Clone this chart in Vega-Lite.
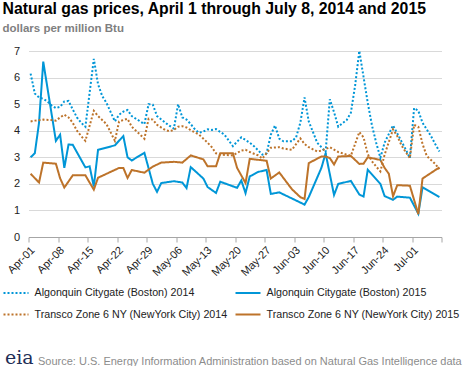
{
"$schema": "https://vega.github.io/schema/vega-lite/v6.json",
"width": 413, "height": 186,
"autosize": {"type": "none"},
"padding": {"left": 28.5, "top": 51, "right": 26.5, "bottom": 129},
"background": "white",
"config": {"font": "Liberation Sans", "view": {"stroke": null}},
"title": {"text": "Natural gas prices, April 1 through July 8, 2014 and 2015", "subtitle": "dollars per million Btu", "anchor": "start", "frame": "group", "dx": -26, "fontSize": 15.8, "fontWeight": "bold", "color": "#000000", "subtitleFontSize": 11.5, "subtitleFontWeight": "bold", "subtitleColor": "#7f7f7f", "subtitlePadding": 5, "offset": 10},
"data": {"values": [
{"series":"Algonquin Citygate (Boston) 2015","date":"2015-04-01","price":3.0},
{"series":"Algonquin Citygate (Boston) 2015","date":"2015-04-02","price":3.15},
{"series":"Algonquin Citygate (Boston) 2015","date":"2015-04-03","price":4.3},
{"series":"Algonquin Citygate (Boston) 2015","date":"2015-04-04","price":6.6},
{"series":"Algonquin Citygate (Boston) 2015","date":"2015-04-07","price":3.62},
{"series":"Algonquin Citygate (Boston) 2015","date":"2015-04-08","price":3.85},
{"series":"Algonquin Citygate (Boston) 2015","date":"2015-04-09","price":2.6},
{"series":"Algonquin Citygate (Boston) 2015","date":"2015-04-10","price":3.48},
{"series":"Algonquin Citygate (Boston) 2015","date":"2015-04-11","price":3.47},
{"series":"Algonquin Citygate (Boston) 2015","date":"2015-04-14","price":2.62},
{"series":"Algonquin Citygate (Boston) 2015","date":"2015-04-15","price":2.66},
{"series":"Algonquin Citygate (Boston) 2015","date":"2015-04-16","price":1.9},
{"series":"Algonquin Citygate (Boston) 2015","date":"2015-04-17","price":3.28},
{"series":"Algonquin Citygate (Boston) 2015","date":"2015-04-21","price":3.45},
{"series":"Algonquin Citygate (Boston) 2015","date":"2015-04-23","price":3.8},
{"series":"Algonquin Citygate (Boston) 2015","date":"2015-04-24","price":3.0},
{"series":"Algonquin Citygate (Boston) 2015","date":"2015-04-25","price":2.88},
{"series":"Algonquin Citygate (Boston) 2015","date":"2015-04-28","price":3.17},
{"series":"Algonquin Citygate (Boston) 2015","date":"2015-04-30","price":2.0},
{"series":"Algonquin Citygate (Boston) 2015","date":"2015-05-01","price":1.7},
{"series":"Algonquin Citygate (Boston) 2015","date":"2015-05-02","price":2.03},
{"series":"Algonquin Citygate (Boston) 2015","date":"2015-05-05","price":2.1},
{"series":"Algonquin Citygate (Boston) 2015","date":"2015-05-07","price":2.05},
{"series":"Algonquin Citygate (Boston) 2015","date":"2015-05-08","price":1.84},
{"series":"Algonquin Citygate (Boston) 2015","date":"2015-05-09","price":2.63},
{"series":"Algonquin Citygate (Boston) 2015","date":"2015-05-12","price":2.2},
{"series":"Algonquin Citygate (Boston) 2015","date":"2015-05-13","price":1.88},
{"series":"Algonquin Citygate (Boston) 2015","date":"2015-05-15","price":1.66},
{"series":"Algonquin Citygate (Boston) 2015","date":"2015-05-16","price":2.08},
{"series":"Algonquin Citygate (Boston) 2015","date":"2015-05-20","price":1.85},
{"series":"Algonquin Citygate (Boston) 2015","date":"2015-05-21","price":2.13},
{"series":"Algonquin Citygate (Boston) 2015","date":"2015-05-22","price":1.65},
{"series":"Algonquin Citygate (Boston) 2015","date":"2015-05-23","price":2.28},
{"series":"Algonquin Citygate (Boston) 2015","date":"2015-05-25","price":2.45},
{"series":"Algonquin Citygate (Boston) 2015","date":"2015-05-27","price":2.52},
{"series":"Algonquin Citygate (Boston) 2015","date":"2015-05-28","price":1.62},
{"series":"Algonquin Citygate (Boston) 2015","date":"2015-05-30","price":1.68},
{"series":"Algonquin Citygate (Boston) 2015","date":"2015-06-02","price":1.45},
{"series":"Algonquin Citygate (Boston) 2015","date":"2015-06-05","price":1.22},
{"series":"Algonquin Citygate (Boston) 2015","date":"2015-06-06","price":1.5},
{"series":"Algonquin Citygate (Boston) 2015","date":"2015-06-09","price":2.6},
{"series":"Algonquin Citygate (Boston) 2015","date":"2015-06-10","price":3.15},
{"series":"Algonquin Citygate (Boston) 2015","date":"2015-06-12","price":1.58},
{"series":"Algonquin Citygate (Boston) 2015","date":"2015-06-13","price":2.0},
{"series":"Algonquin Citygate (Boston) 2015","date":"2015-06-16","price":2.11},
{"series":"Algonquin Citygate (Boston) 2015","date":"2015-06-18","price":1.6},
{"series":"Algonquin Citygate (Boston) 2015","date":"2015-06-19","price":1.52},
{"series":"Algonquin Citygate (Boston) 2015","date":"2015-06-20","price":2.53},
{"series":"Algonquin Citygate (Boston) 2015","date":"2015-06-23","price":2.0},
{"series":"Algonquin Citygate (Boston) 2015","date":"2015-06-24","price":1.54},
{"series":"Algonquin Citygate (Boston) 2015","date":"2015-06-26","price":1.4},
{"series":"Algonquin Citygate (Boston) 2015","date":"2015-06-27","price":1.52},
{"series":"Algonquin Citygate (Boston) 2015","date":"2015-06-30","price":1.48},
{"series":"Algonquin Citygate (Boston) 2015","date":"2015-07-02","price":0.88},
{"series":"Algonquin Citygate (Boston) 2015","date":"2015-07-03","price":1.87},
{"series":"Algonquin Citygate (Boston) 2015","date":"2015-07-07","price":1.5},
{"series":"Transco Zone 6 NY (NewYork City) 2015","date":"2015-04-01","price":2.38},
{"series":"Transco Zone 6 NY (NewYork City) 2015","date":"2015-04-03","price":2.05},
{"series":"Transco Zone 6 NY (NewYork City) 2015","date":"2015-04-04","price":2.8},
{"series":"Transco Zone 6 NY (NewYork City) 2015","date":"2015-04-07","price":2.76},
{"series":"Transco Zone 6 NY (NewYork City) 2015","date":"2015-04-08","price":2.21},
{"series":"Transco Zone 6 NY (NewYork City) 2015","date":"2015-04-09","price":1.86},
{"series":"Transco Zone 6 NY (NewYork City) 2015","date":"2015-04-11","price":2.32},
{"series":"Transco Zone 6 NY (NewYork City) 2015","date":"2015-04-14","price":2.32},
{"series":"Transco Zone 6 NY (NewYork City) 2015","date":"2015-04-16","price":1.78},
{"series":"Transco Zone 6 NY (NewYork City) 2015","date":"2015-04-17","price":2.23},
{"series":"Transco Zone 6 NY (NewYork City) 2015","date":"2015-04-22","price":2.6},
{"series":"Transco Zone 6 NY (NewYork City) 2015","date":"2015-04-23","price":2.6},
{"series":"Transco Zone 6 NY (NewYork City) 2015","date":"2015-04-24","price":2.22},
{"series":"Transco Zone 6 NY (NewYork City) 2015","date":"2015-04-25","price":2.52},
{"series":"Transco Zone 6 NY (NewYork City) 2015","date":"2015-04-28","price":2.42},
{"series":"Transco Zone 6 NY (NewYork City) 2015","date":"2015-04-30","price":2.65},
{"series":"Transco Zone 6 NY (NewYork City) 2015","date":"2015-05-02","price":2.8},
{"series":"Transco Zone 6 NY (NewYork City) 2015","date":"2015-05-05","price":2.83},
{"series":"Transco Zone 6 NY (NewYork City) 2015","date":"2015-05-07","price":2.8},
{"series":"Transco Zone 6 NY (NewYork City) 2015","date":"2015-05-09","price":3.07},
{"series":"Transco Zone 6 NY (NewYork City) 2015","date":"2015-05-12","price":2.92},
{"series":"Transco Zone 6 NY (NewYork City) 2015","date":"2015-05-13","price":2.66},
{"series":"Transco Zone 6 NY (NewYork City) 2015","date":"2015-05-15","price":2.66},
{"series":"Transco Zone 6 NY (NewYork City) 2015","date":"2015-05-16","price":3.15},
{"series":"Transco Zone 6 NY (NewYork City) 2015","date":"2015-05-19","price":3.15},
{"series":"Transco Zone 6 NY (NewYork City) 2015","date":"2015-05-20","price":2.6},
{"series":"Transco Zone 6 NY (NewYork City) 2015","date":"2015-05-22","price":2.03},
{"series":"Transco Zone 6 NY (NewYork City) 2015","date":"2015-05-23","price":2.94},
{"series":"Transco Zone 6 NY (NewYork City) 2015","date":"2015-05-27","price":2.87},
{"series":"Transco Zone 6 NY (NewYork City) 2015","date":"2015-05-28","price":2.2},
{"series":"Transco Zone 6 NY (NewYork City) 2015","date":"2015-05-30","price":2.43},
{"series":"Transco Zone 6 NY (NewYork City) 2015","date":"2015-06-02","price":1.8},
{"series":"Transco Zone 6 NY (NewYork City) 2015","date":"2015-06-04","price":1.5},
{"series":"Transco Zone 6 NY (NewYork City) 2015","date":"2015-06-05","price":1.43},
{"series":"Transco Zone 6 NY (NewYork City) 2015","date":"2015-06-06","price":2.78},
{"series":"Transco Zone 6 NY (NewYork City) 2015","date":"2015-06-09","price":3.03},
{"series":"Transco Zone 6 NY (NewYork City) 2015","date":"2015-06-10","price":3.03},
{"series":"Transco Zone 6 NY (NewYork City) 2015","date":"2015-06-11","price":2.97},
{"series":"Transco Zone 6 NY (NewYork City) 2015","date":"2015-06-12","price":2.73},
{"series":"Transco Zone 6 NY (NewYork City) 2015","date":"2015-06-13","price":3.03},
{"series":"Transco Zone 6 NY (NewYork City) 2015","date":"2015-06-16","price":3.05},
{"series":"Transco Zone 6 NY (NewYork City) 2015","date":"2015-06-18","price":2.75},
{"series":"Transco Zone 6 NY (NewYork City) 2015","date":"2015-06-19","price":2.76},
{"series":"Transco Zone 6 NY (NewYork City) 2015","date":"2015-06-20","price":3.0},
{"series":"Transco Zone 6 NY (NewYork City) 2015","date":"2015-06-23","price":2.9},
{"series":"Transco Zone 6 NY (NewYork City) 2015","date":"2015-06-24","price":2.6},
{"series":"Transco Zone 6 NY (NewYork City) 2015","date":"2015-06-25","price":2.38},
{"series":"Transco Zone 6 NY (NewYork City) 2015","date":"2015-06-26","price":1.53},
{"series":"Transco Zone 6 NY (NewYork City) 2015","date":"2015-06-27","price":1.95},
{"series":"Transco Zone 6 NY (NewYork City) 2015","date":"2015-06-30","price":1.93},
{"series":"Transco Zone 6 NY (NewYork City) 2015","date":"2015-07-02","price":0.86},
{"series":"Transco Zone 6 NY (NewYork City) 2015","date":"2015-07-03","price":2.2},
{"series":"Transco Zone 6 NY (NewYork City) 2015","date":"2015-07-07","price":2.62},
{"series":"Algonquin Citygate (Boston) 2014","date":"2014-04-01","price":6.15},
{"series":"Algonquin Citygate (Boston) 2014","date":"2014-04-02","price":5.4},
{"series":"Algonquin Citygate (Boston) 2014","date":"2014-04-03","price":5.25},
{"series":"Algonquin Citygate (Boston) 2014","date":"2014-04-04","price":5.2},
{"series":"Algonquin Citygate (Boston) 2014","date":"2014-04-05","price":5.1},
{"series":"Algonquin Citygate (Boston) 2014","date":"2014-04-06","price":4.95},
{"series":"Algonquin Citygate (Boston) 2014","date":"2014-04-07","price":4.85},
{"series":"Algonquin Citygate (Boston) 2014","date":"2014-04-08","price":4.9},
{"series":"Algonquin Citygate (Boston) 2014","date":"2014-04-09","price":5.1},
{"series":"Algonquin Citygate (Boston) 2014","date":"2014-04-10","price":5.12},
{"series":"Algonquin Citygate (Boston) 2014","date":"2014-04-11","price":4.8},
{"series":"Algonquin Citygate (Boston) 2014","date":"2014-04-12","price":4.5},
{"series":"Algonquin Citygate (Boston) 2014","date":"2014-04-13","price":4.3},
{"series":"Algonquin Citygate (Boston) 2014","date":"2014-04-14","price":4.15},
{"series":"Algonquin Citygate (Boston) 2014","date":"2014-04-16","price":6.7},
{"series":"Algonquin Citygate (Boston) 2014","date":"2014-04-17","price":5.75},
{"series":"Algonquin Citygate (Boston) 2014","date":"2014-04-18","price":5.3},
{"series":"Algonquin Citygate (Boston) 2014","date":"2014-04-19","price":5.05},
{"series":"Algonquin Citygate (Boston) 2014","date":"2014-04-21","price":4.35},
{"series":"Algonquin Citygate (Boston) 2014","date":"2014-04-22","price":4.6},
{"series":"Algonquin Citygate (Boston) 2014","date":"2014-04-23","price":4.72},
{"series":"Algonquin Citygate (Boston) 2014","date":"2014-04-24","price":4.78},
{"series":"Algonquin Citygate (Boston) 2014","date":"2014-04-25","price":4.55},
{"series":"Algonquin Citygate (Boston) 2014","date":"2014-04-26","price":4.45},
{"series":"Algonquin Citygate (Boston) 2014","date":"2014-04-28","price":4.25},
{"series":"Algonquin Citygate (Boston) 2014","date":"2014-04-29","price":5.0},
{"series":"Algonquin Citygate (Boston) 2014","date":"2014-04-30","price":4.98},
{"series":"Algonquin Citygate (Boston) 2014","date":"2014-05-01","price":4.55},
{"series":"Algonquin Citygate (Boston) 2014","date":"2014-05-03","price":4.3},
{"series":"Algonquin Citygate (Boston) 2014","date":"2014-05-04","price":4.18},
{"series":"Algonquin Citygate (Boston) 2014","date":"2014-05-05","price":4.08},
{"series":"Algonquin Citygate (Boston) 2014","date":"2014-05-06","price":5.0},
{"series":"Algonquin Citygate (Boston) 2014","date":"2014-05-07","price":4.5},
{"series":"Algonquin Citygate (Boston) 2014","date":"2014-05-08","price":4.42},
{"series":"Algonquin Citygate (Boston) 2014","date":"2014-05-09","price":4.25},
{"series":"Algonquin Citygate (Boston) 2014","date":"2014-05-10","price":4.05},
{"series":"Algonquin Citygate (Boston) 2014","date":"2014-05-11","price":3.92},
{"series":"Algonquin Citygate (Boston) 2014","date":"2014-05-12","price":3.97},
{"series":"Algonquin Citygate (Boston) 2014","date":"2014-05-13","price":4.05},
{"series":"Algonquin Citygate (Boston) 2014","date":"2014-05-14","price":4.03},
{"series":"Algonquin Citygate (Boston) 2014","date":"2014-05-15","price":4.06},
{"series":"Algonquin Citygate (Boston) 2014","date":"2014-05-17","price":3.85},
{"series":"Algonquin Citygate (Boston) 2014","date":"2014-05-19","price":3.42},
{"series":"Algonquin Citygate (Boston) 2014","date":"2014-05-21","price":3.75},
{"series":"Algonquin Citygate (Boston) 2014","date":"2014-05-22","price":3.65},
{"series":"Algonquin Citygate (Boston) 2014","date":"2014-05-23","price":3.55},
{"series":"Algonquin Citygate (Boston) 2014","date":"2014-05-24","price":3.42},
{"series":"Algonquin Citygate (Boston) 2014","date":"2014-05-26","price":3.1},
{"series":"Algonquin Citygate (Boston) 2014","date":"2014-05-27","price":3.15},
{"series":"Algonquin Citygate (Boston) 2014","date":"2014-05-28","price":3.85},
{"series":"Algonquin Citygate (Boston) 2014","date":"2014-05-29","price":4.2},
{"series":"Algonquin Citygate (Boston) 2014","date":"2014-05-30","price":3.7},
{"series":"Algonquin Citygate (Boston) 2014","date":"2014-05-31","price":3.6},
{"series":"Algonquin Citygate (Boston) 2014","date":"2014-06-02","price":3.6},
{"series":"Algonquin Citygate (Boston) 2014","date":"2014-06-03","price":3.75},
{"series":"Algonquin Citygate (Boston) 2014","date":"2014-06-04","price":4.3},
{"series":"Algonquin Citygate (Boston) 2014","date":"2014-06-05","price":5.25},
{"series":"Algonquin Citygate (Boston) 2014","date":"2014-06-06","price":4.35},
{"series":"Algonquin Citygate (Boston) 2014","date":"2014-06-08","price":3.55},
{"series":"Algonquin Citygate (Boston) 2014","date":"2014-06-09","price":3.38},
{"series":"Algonquin Citygate (Boston) 2014","date":"2014-06-10","price":3.2},
{"series":"Algonquin Citygate (Boston) 2014","date":"2014-06-11","price":5.18},
{"series":"Algonquin Citygate (Boston) 2014","date":"2014-06-12","price":4.7},
{"series":"Algonquin Citygate (Boston) 2014","date":"2014-06-13","price":4.15},
{"series":"Algonquin Citygate (Boston) 2014","date":"2014-06-14","price":4.28},
{"series":"Algonquin Citygate (Boston) 2014","date":"2014-06-15","price":4.4},
{"series":"Algonquin Citygate (Boston) 2014","date":"2014-06-16","price":4.68},
{"series":"Algonquin Citygate (Boston) 2014","date":"2014-06-17","price":5.7},
{"series":"Algonquin Citygate (Boston) 2014","date":"2014-06-18","price":7.0},
{"series":"Algonquin Citygate (Boston) 2014","date":"2014-06-20","price":5.05},
{"series":"Algonquin Citygate (Boston) 2014","date":"2014-06-21","price":4.2},
{"series":"Algonquin Citygate (Boston) 2014","date":"2014-06-22","price":3.55},
{"series":"Algonquin Citygate (Boston) 2014","date":"2014-06-23","price":2.98},
{"series":"Algonquin Citygate (Boston) 2014","date":"2014-06-24","price":3.55},
{"series":"Algonquin Citygate (Boston) 2014","date":"2014-06-26","price":4.2},
{"series":"Algonquin Citygate (Boston) 2014","date":"2014-06-27","price":3.9},
{"series":"Algonquin Citygate (Boston) 2014","date":"2014-06-28","price":3.6},
{"series":"Algonquin Citygate (Boston) 2014","date":"2014-06-29","price":3.3},
{"series":"Algonquin Citygate (Boston) 2014","date":"2014-06-30","price":2.97},
{"series":"Algonquin Citygate (Boston) 2014","date":"2014-07-01","price":4.85},
{"series":"Algonquin Citygate (Boston) 2014","date":"2014-07-02","price":4.75},
{"series":"Algonquin Citygate (Boston) 2014","date":"2014-07-03","price":4.3},
{"series":"Algonquin Citygate (Boston) 2014","date":"2014-07-05","price":3.8},
{"series":"Algonquin Citygate (Boston) 2014","date":"2014-07-06","price":3.5},
{"series":"Algonquin Citygate (Boston) 2014","date":"2014-07-07","price":3.22},
{"series":"Transco Zone 6 NY (NewYork City) 2014","date":"2014-04-01","price":4.35},
{"series":"Transco Zone 6 NY (NewYork City) 2014","date":"2014-04-02","price":4.38},
{"series":"Transco Zone 6 NY (NewYork City) 2014","date":"2014-04-04","price":4.42},
{"series":"Transco Zone 6 NY (NewYork City) 2014","date":"2014-04-06","price":4.4},
{"series":"Transco Zone 6 NY (NewYork City) 2014","date":"2014-04-07","price":4.38},
{"series":"Transco Zone 6 NY (NewYork City) 2014","date":"2014-04-08","price":4.5},
{"series":"Transco Zone 6 NY (NewYork City) 2014","date":"2014-04-09","price":4.6},
{"series":"Transco Zone 6 NY (NewYork City) 2014","date":"2014-04-10","price":4.5},
{"series":"Transco Zone 6 NY (NewYork City) 2014","date":"2014-04-11","price":4.3},
{"series":"Transco Zone 6 NY (NewYork City) 2014","date":"2014-04-12","price":4.0},
{"series":"Transco Zone 6 NY (NewYork City) 2014","date":"2014-04-13","price":3.8},
{"series":"Transco Zone 6 NY (NewYork City) 2014","date":"2014-04-14","price":3.62},
{"series":"Transco Zone 6 NY (NewYork City) 2014","date":"2014-04-16","price":4.75},
{"series":"Transco Zone 6 NY (NewYork City) 2014","date":"2014-04-17","price":4.55},
{"series":"Transco Zone 6 NY (NewYork City) 2014","date":"2014-04-19","price":4.25},
{"series":"Transco Zone 6 NY (NewYork City) 2014","date":"2014-04-21","price":3.62},
{"series":"Transco Zone 6 NY (NewYork City) 2014","date":"2014-04-22","price":4.35},
{"series":"Transco Zone 6 NY (NewYork City) 2014","date":"2014-04-24","price":4.45},
{"series":"Transco Zone 6 NY (NewYork City) 2014","date":"2014-04-25","price":4.15},
{"series":"Transco Zone 6 NY (NewYork City) 2014","date":"2014-04-26","price":4.0},
{"series":"Transco Zone 6 NY (NewYork City) 2014","date":"2014-04-28","price":3.7},
{"series":"Transco Zone 6 NY (NewYork City) 2014","date":"2014-04-29","price":4.45},
{"series":"Transco Zone 6 NY (NewYork City) 2014","date":"2014-04-30","price":4.42},
{"series":"Transco Zone 6 NY (NewYork City) 2014","date":"2014-05-01","price":4.22},
{"series":"Transco Zone 6 NY (NewYork City) 2014","date":"2014-05-03","price":4.02},
{"series":"Transco Zone 6 NY (NewYork City) 2014","date":"2014-05-04","price":3.98},
{"series":"Transco Zone 6 NY (NewYork City) 2014","date":"2014-05-05","price":4.03},
{"series":"Transco Zone 6 NY (NewYork City) 2014","date":"2014-05-06","price":4.15},
{"series":"Transco Zone 6 NY (NewYork City) 2014","date":"2014-05-07","price":4.17},
{"series":"Transco Zone 6 NY (NewYork City) 2014","date":"2014-05-08","price":4.12},
{"series":"Transco Zone 6 NY (NewYork City) 2014","date":"2014-05-09","price":4.02},
{"series":"Transco Zone 6 NY (NewYork City) 2014","date":"2014-05-11","price":3.85},
{"series":"Transco Zone 6 NY (NewYork City) 2014","date":"2014-05-12","price":3.7},
{"series":"Transco Zone 6 NY (NewYork City) 2014","date":"2014-05-13","price":3.55},
{"series":"Transco Zone 6 NY (NewYork City) 2014","date":"2014-05-14","price":3.38},
{"series":"Transco Zone 6 NY (NewYork City) 2014","date":"2014-05-15","price":3.15},
{"series":"Transco Zone 6 NY (NewYork City) 2014","date":"2014-05-16","price":3.1},
{"series":"Transco Zone 6 NY (NewYork City) 2014","date":"2014-05-19","price":3.07},
{"series":"Transco Zone 6 NY (NewYork City) 2014","date":"2014-05-21","price":3.25},
{"series":"Transco Zone 6 NY (NewYork City) 2014","date":"2014-05-22","price":3.28},
{"series":"Transco Zone 6 NY (NewYork City) 2014","date":"2014-05-23","price":3.2},
{"series":"Transco Zone 6 NY (NewYork City) 2014","date":"2014-05-25","price":3.07},
{"series":"Transco Zone 6 NY (NewYork City) 2014","date":"2014-05-26","price":2.95},
{"series":"Transco Zone 6 NY (NewYork City) 2014","date":"2014-05-28","price":3.36},
{"series":"Transco Zone 6 NY (NewYork City) 2014","date":"2014-05-30","price":3.38},
{"series":"Transco Zone 6 NY (NewYork City) 2014","date":"2014-05-31","price":3.33},
{"series":"Transco Zone 6 NY (NewYork City) 2014","date":"2014-06-02","price":3.28},
{"series":"Transco Zone 6 NY (NewYork City) 2014","date":"2014-06-04","price":3.71},
{"series":"Transco Zone 6 NY (NewYork City) 2014","date":"2014-06-05","price":3.5},
{"series":"Transco Zone 6 NY (NewYork City) 2014","date":"2014-06-06","price":3.38},
{"series":"Transco Zone 6 NY (NewYork City) 2014","date":"2014-06-08","price":3.22},
{"series":"Transco Zone 6 NY (NewYork City) 2014","date":"2014-06-09","price":3.25},
{"series":"Transco Zone 6 NY (NewYork City) 2014","date":"2014-06-11","price":3.38},
{"series":"Transco Zone 6 NY (NewYork City) 2014","date":"2014-06-13","price":3.2},
{"series":"Transco Zone 6 NY (NewYork City) 2014","date":"2014-06-15","price":3.1},
{"series":"Transco Zone 6 NY (NewYork City) 2014","date":"2014-06-16","price":3.06},
{"series":"Transco Zone 6 NY (NewYork City) 2014","date":"2014-06-17","price":3.5},
{"series":"Transco Zone 6 NY (NewYork City) 2014","date":"2014-06-18","price":3.95},
{"series":"Transco Zone 6 NY (NewYork City) 2014","date":"2014-06-19","price":3.75},
{"series":"Transco Zone 6 NY (NewYork City) 2014","date":"2014-06-20","price":3.12},
{"series":"Transco Zone 6 NY (NewYork City) 2014","date":"2014-06-21","price":2.85},
{"series":"Transco Zone 6 NY (NewYork City) 2014","date":"2014-06-22","price":2.65},
{"series":"Transco Zone 6 NY (NewYork City) 2014","date":"2014-06-23","price":2.47},
{"series":"Transco Zone 6 NY (NewYork City) 2014","date":"2014-06-24","price":3.1},
{"series":"Transco Zone 6 NY (NewYork City) 2014","date":"2014-06-26","price":4.05},
{"series":"Transco Zone 6 NY (NewYork City) 2014","date":"2014-06-27","price":3.8},
{"series":"Transco Zone 6 NY (NewYork City) 2014","date":"2014-06-28","price":3.45},
{"series":"Transco Zone 6 NY (NewYork City) 2014","date":"2014-06-29","price":3.2},
{"series":"Transco Zone 6 NY (NewYork City) 2014","date":"2014-06-30","price":2.97},
{"series":"Transco Zone 6 NY (NewYork City) 2014","date":"2014-07-01","price":4.22},
{"series":"Transco Zone 6 NY (NewYork City) 2014","date":"2014-07-02","price":4.15},
{"series":"Transco Zone 6 NY (NewYork City) 2014","date":"2014-07-03","price":3.5},
{"series":"Transco Zone 6 NY (NewYork City) 2014","date":"2014-07-04","price":3.05},
{"series":"Transco Zone 6 NY (NewYork City) 2014","date":"2014-07-06","price":2.75},
{"series":"Transco Zone 6 NY (NewYork City) 2014","date":"2014-07-07","price":2.55}
]},
"mark": {"type": "line", "strokeWidth": 2},
"encoding": {
"x": {"field": "date", "timeUnit": "utcmonthdate", "type": "temporal", "bandPosition": 0.5,
 "scale": {"domain": [{"year": 2012, "month": 4, "date": 1, "utc": true}, {"year": 2012, "month": 7, "date": 8, "utc": true}]},
 "axis": {"values": [
  {"year": 2012, "month": 4, "date": 1, "utc": true},
  {"year": 2012, "month": 4, "date": 8, "utc": true},
  {"year": 2012, "month": 4, "date": 15, "utc": true},
  {"year": 2012, "month": 4, "date": 22, "utc": true},
  {"year": 2012, "month": 4, "date": 29, "utc": true},
  {"year": 2012, "month": 5, "date": 6, "utc": true},
  {"year": 2012, "month": 5, "date": 13, "utc": true},
  {"year": 2012, "month": 5, "date": 20, "utc": true},
  {"year": 2012, "month": 5, "date": 27, "utc": true},
  {"year": 2012, "month": 6, "date": 3, "utc": true},
  {"year": 2012, "month": 6, "date": 10, "utc": true},
  {"year": 2012, "month": 6, "date": 17, "utc": true},
  {"year": 2012, "month": 6, "date": 24, "utc": true},
  {"year": 2012, "month": 7, "date": 1, "utc": true},
  {"year": 2012, "month": 7, "date": 8, "utc": true}],
  "format": "%b-%d", "labelExpr": "datum.label == 'Jul-08' ? '' : datum.label",
  "labelOverlap": false, "labelAngle": -45, "labelFontSize": 11, "labelColor": "#222222", "grid": false,
  "domainColor": "#a6a6a6", "tickColor": "#a6a6a6", "tickSize": 5, "labelPadding": 2,
  "title": "Source: U.S. Energy Information Administration based on Natural Gas Intelligence data",
  "titleX": 9, "titleY": 127, "titleAnchor": "start", "titleAlign": "left", "titleBaseline": "alphabetic",
  "titleFontSize": 11, "titleFontWeight": "normal", "titleColor": "#8c8c8c"}},
"y": {"field": "price", "type": "quantitative", "scale": {"domain": [0, 7]},
 "axis": {"values": [0, 1, 2, 3, 4, 5, 6, 7], "domain": false, "ticks": false, "labelPadding": 9,
  "gridColor": "#d9d9d9", "labelFontSize": 11, "labelColor": "#222222",
  "title": "eia", "titleAngle": 0, "titleX": -24, "titleY": 312, "titleFont": "DejaVu Serif", "titleFontSize": 19,
  "titleFontWeight": "normal", "titleColor": "#1f2f57", "titleAlign": "left", "titleBaseline": "alphabetic"}},
"color": {"field": "series", "type": "nominal",
 "scale": {"domain": ["Algonquin Citygate (Boston) 2014", "Transco Zone 6 NY (NewYork City) 2014", "Algonquin Citygate (Boston) 2015", "Transco Zone 6 NY (NewYork City) 2015"],
  "range": ["#0096d7", "#bd732a", "#0096d7", "#bd732a"]},
 "legend": {"title": null, "orient": "none", "legendX": -26, "legendY": 228, "columns": 2, "columnPadding": 4, "rowPadding": 3,
  "symbolType": "stroke", "symbolSize": 625, "symbolStrokeWidth": 2, "labelFontSize": 10.7, "labelColor": "#222222", "labelLimit": 300, "labelOffset": 5}},
"strokeDash": {"field": "series", "type": "nominal",
 "scale": {"domain": ["Algonquin Citygate (Boston) 2014", "Transco Zone 6 NY (NewYork City) 2014", "Algonquin Citygate (Boston) 2015", "Transco Zone 6 NY (NewYork City) 2015"],
  "range": [[2, 2], [2, 2], [1, 0], [1, 0]]},
 "legend": {"title": null, "orient": "none", "legendX": -26, "legendY": 228, "columns": 2, "columnPadding": 4, "rowPadding": 3,
  "symbolType": "stroke", "symbolSize": 625, "symbolStrokeWidth": 2, "labelFontSize": 10.7, "labelColor": "#222222", "labelLimit": 300, "labelOffset": 5}}
}
}
